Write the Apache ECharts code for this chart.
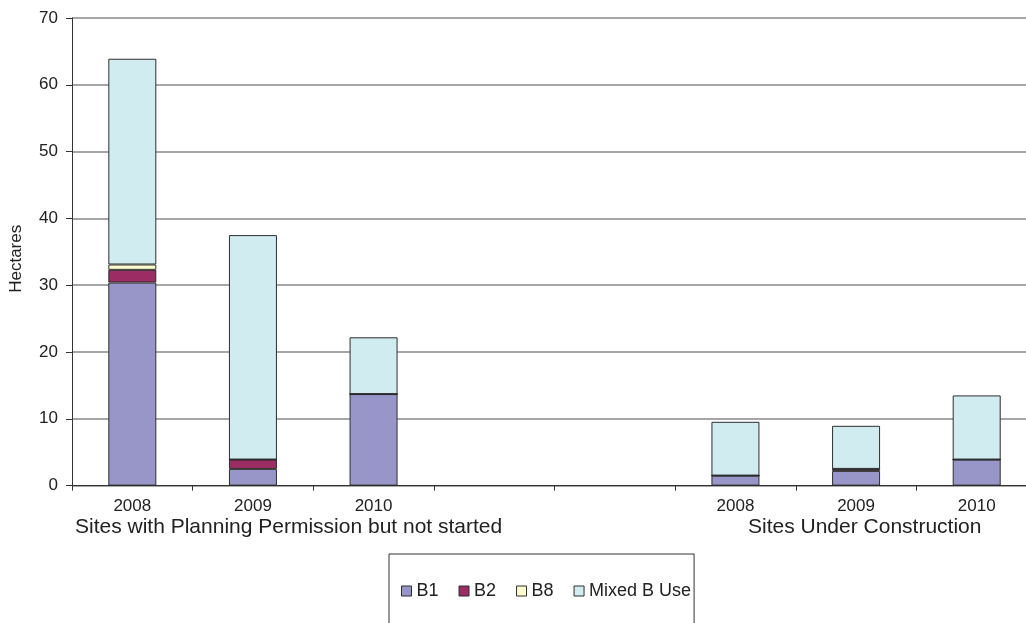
<!DOCTYPE html>
<html>
<head>
<meta charset="utf-8">
<script src="https://cdn.jsdelivr.net/npm/echarts@6/dist/echarts.min.js"></script>
<style>
  html, body { margin: 0; padding: 0; background: #ffffff; overflow: hidden; }
  #chart { width: 1037px; height: 623px; }
</style>
</head>
<body>
<div id="chart"></div>
<script>
// Years for each group; two blank slots separate the groups
const categories = ['2008', '2009', '2010', '', '', '2008', '2009', '2010'];
const groupLabels = ['Sites with Planning Permission but not started', 'Sites Under Construction'];

// Hectares by use class
const b1    = [30.4, 2.5, 13.7, null, null, 1.5, 2.2, 3.9];
const b2    = [1.9, 1.4, 0, null, null, 0, 0.3, 0];
const b8    = [0.8, 0, 0, null, null, 0, 0, 0];
const mixed = [30.8, 33.6, 8.5, null, null, 8.05, 6.45, 9.6];

const yTicks = { min: 0, max: 70, interval: 10 };

const FONT = 'Liberation Sans, Arial, sans-serif';
const barStyle = { borderColor: '#2e2e2e', borderWidth: 1 };

function series(name, data, color) {
  return {
    name: name,
    type: 'bar',
    stack: 'total',
    data: data,
    barWidth: 48,
    itemStyle: Object.assign({ color: color }, barStyle)
  };
}

const chart = echarts.init(document.getElementById('chart'), null, { renderer: 'canvas' });

chart.setOption({
  animation: false,
  backgroundColor: '#ffffff',
  textStyle: { fontFamily: FONT },
  grid: { left: 72, top: 18, right: 0, height: 467.6, containLabel: false },
  xAxis: {
    type: 'category',
    data: categories,
    axisLine: { show: true, lineStyle: { color: '#333333', width: 1 } },
    axisTick: { show: true, length: 5, lineStyle: { color: '#333333' } },
    axisLabel: { color: '#222222', fontSize: 17, fontFamily: FONT, margin: 12, interval: 0 },
    splitLine: { show: false }
  },
  yAxis: {
    type: 'value',
    min: yTicks.min,
    max: yTicks.max,
    interval: yTicks.interval,
    name: 'Hectares',
    nameLocation: 'middle',
    nameGap: 47,
    nameRotate: 90,
    nameTextStyle: { color: '#222222', fontSize: 17, fontFamily: FONT, padding: [0, 14, 0, 0] },
    axisLine: { show: true, lineStyle: { color: '#333333', width: 1 } },
    axisTick: { show: true, inside: false, length: 6, lineStyle: { color: '#333333' } },
    axisLabel: { color: '#222222', fontSize: 17, fontFamily: FONT, margin: 14 },
    splitLine: { show: true, lineStyle: { color: '#888888', width: 1.5 } }
  },
  legend: {
    data: ['B1', 'B2', 'B8', 'Mixed B Use'],
    left: 389,
    top: 554,
    orient: 'horizontal',
    itemWidth: 10,
    itemHeight: 10,
    itemGap: 20,
    icon: 'rect',
    padding: [28, 3, 29, 12],
    borderColor: '#333333',
    borderWidth: 1,
    itemStyle: { borderColor: '#2e2e2e', borderWidth: 1 },
    textStyle: { color: '#222222', fontSize: 18, fontFamily: FONT }
  },
  graphic: [
    {
      type: 'text',
      left: 75,
      top: 517,
      style: { text: groupLabels[0], fill: '#222222', font: '21px ' + FONT }
    },
    {
      type: 'text',
      left: 748,
      top: 517,
      style: { text: groupLabels[1], fill: '#222222', font: '21px ' + FONT }
    }
  ],
  series: [
    series('B1', b1, '#9896c8'),
    series('B2', b2, '#9b2d64'),
    series('B8', b8, '#fffdd0'),
    series('Mixed B Use', mixed, '#d0ecf1')
  ]
});
</script>
</body>
</html>
